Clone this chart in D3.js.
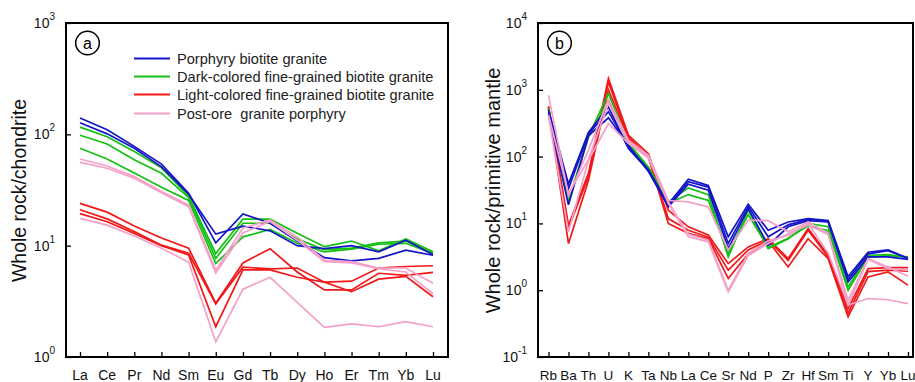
<!DOCTYPE html>
<html><head><meta charset="utf-8">
<script src="https://cdn.jsdelivr.net/npm/d3@7"></script>
<style>body{margin:0;background:#fff;} svg{display:block;font-family:Arial,"Liberation Sans",sans-serif;}</style>
</head><body>
<svg id="c" width="915" height="382"></svg>
<script>
// ---------- data ----------
const reeElements = ["La","Ce","Pr","Nd","Sm","Eu","Gd","Tb","Dy","Ho","Er","Tm","Yb","Lu"];
const reeBlue = [
  [140,110,78,54,29.5,10.6,19.3,15.9,11.0,7.8,7.3,7.7,9.1,8.2],
  [127,101,75,51,29,12.7,15.0,13.6,10.0,9.4,10.0,8.8,11.2,8.3]
];
const reeGreen = [
  [116,95,70,50,28,8.5,17.3,17.3,12.9,9.8,11.0,9.0,11.5,8.8],
  [98,82,59,44.7,27,7.7,15.9,15.9,11.5,9.2,9.5,10.6,11.0,8.6],
  [75,60,45,33.5,25.5,6.9,12.0,14.0,10.5,8.8,9.3,10.3,10.5,8.5]
];
const reeRed = [
  [24,20,15,11.7,9.5,3.04,7.0,9.4,5.8,4.0,4.0,5.65,5.4,5.75],
  [21,17.4,13.4,10.1,8.55,3.0,6.4,6.2,6.3,4.7,4.8,6.3,6.5,6.6],
  [19.4,16.4,12.9,10.0,8.25,1.87,6.05,6.05,5.2,4.7,3.86,5.0,5.3,3.48]
];
const reePink = [
  [60,52,41.7,30.6,23.2,6.0,14.4,17.0,12.0,7.4,7.2,6.3,6.3,4.6],
  [56,49.6,40.3,29.9,22.4,5.7,13.0,16.5,11.2,7.2,7.0,6.2,5.8,3.7],
  [17.6,15.3,12.2,9.5,7.1,1.37,4.06,5.2,3.1,1.85,1.98,1.87,2.08,1.87]
];
const tmElements = ["Rb","Ba","Th","U","K","Ta","Nb","La","Ce","Sr","Nd","P","Zr","Hf","Sm","Ti","Y","Yb","Lu"];
const tmBlue = [
  [500,39,230,555,132,62,19.5,46,37,6.3,19.4,7.9,10.5,11.8,11.0,1.6,3.7,4.0,3.0],
  [470,33,220,470,140,64,18.5,42,35,5.0,18,6.3,9.5,11.5,10.8,1.45,3.5,3.9,3.0],
  [420,19,205,380,148,60,17.7,38.6,31.4,4.2,16.7,4.7,8.9,11.0,10.5,1.33,3.15,3.15,2.9]
];
const tmGreen = [
  [530,22,200,880,160,70,21,34,27,3.15,15.8,4.2,5.9,10,8.9,1.12,3.34,3.4,3.1],
  [510,20,195,700,155,68,20,27,22,3.6,13.5,4.35,6.0,9.2,7.8,1.0,3.1,3.3,3.15]
];
const tmRed = [
  [570,9.4,56,1480,210,110,15.8,8.9,6.7,2.5,4.45,5.9,2.98,8.4,3.34,0.53,2.11,2.18,2.18],
  [550,8.5,50,1300,195,100,11.8,7.9,6.2,2.0,4.0,5.6,2.8,7.9,3.15,0.45,1.9,2.0,1.92],
  [520,5.0,44,1000,187,99,10.0,7.1,5.9,1.5,3.5,5.4,2.23,5.9,2.98,0.40,1.58,1.88,1.19]
];
const tmPink = [
  [830,26,125,720,176,105,22,21,17.7,4.0,11.2,11.0,7.5,10.5,7.1,0.71,2.98,2.23,1.62],
  [420,28,90,620,165,100,21,6.9,5.6,1.0,3.54,5.5,6.6,10.0,3.6,0.6,2.9,2.1,2.0],
  [400,7.5,88,313,158,95,20,6.3,5.3,0.94,3.3,5.0,7.0,9.5,6.8,0.6,0.75,0.72,0.63]
];
const legendLabels = ["Porphyry biotite granite","Dark-colored fine-grained biotite granite","Light-colored fine-grained biotite granite","Post-ore  granite porphyry"];
const reeTicks = [1,10,100,1000];
const tmTicks = [0.1,1,10,100,1000,10000];

// ---------- styles ----------
const colors = {blue:"#1414c8", green:"#14c014", red:"#f01818", pink:"#f5a0c8"};
const svg = d3.select("#c");

function panel(opt){
  const g = svg.append("g");
  const x = d3.scalePoint().domain(opt.cats).range(opt.xr);
  const y = d3.scaleLog().domain(opt.yd).range([opt.bottom, opt.top]);
  const line = d3.line().x((d,i)=>x(opt.cats[i])).y(d=>y(d));
  const groups = [["red",opt.red],["green",opt.green],["blue",opt.blue],["pink",opt.pink]];
  groups.forEach(([c,arr])=>{
    arr.forEach(s=>{
      g.append("path").attr("d",line(s)).attr("fill","none")
        .attr("stroke",colors[c]).attr("stroke-width",1.7).attr("stroke-linejoin","miter");
    });
  });
  // frame
  g.append("rect").attr("x",opt.left).attr("y",opt.top).attr("width",opt.right-opt.left)
    .attr("height",opt.bottom-opt.top).attr("fill","none").attr("stroke","#000").attr("stroke-width",2);
  // x ticks (inside) and labels
  const xa = g.append("g").attr("transform",`translate(0,${opt.bottom})`)
    .call(d3.axisTop(x).tickSize(5).tickFormat(""));
  xa.select(".domain").remove();
  xa.selectAll("line").attr("stroke","#000").attr("stroke-width",1.3);
  opt.cats.forEach(c=>{
    g.append("text").attr("x",x(c)).attr("y",380).attr("text-anchor","middle")
      .attr("font-size",opt.xfs).attr("fill","#111").text(c);
  });
  // y ticks (inside) and labels
  const ya = g.append("g").attr("transform",`translate(${opt.left},0)`)
    .call(d3.axisRight(y).tickValues(opt.ticks).tickSize(5).tickFormat(""));
  ya.select(".domain").remove();
  ya.selectAll("line").attr("stroke","#000").attr("stroke-width",1.3);
  opt.ticks.forEach(t=>{
    const tx = g.append("text").attr("x",opt.left-11).attr("y",y(t)+5)
      .attr("text-anchor","end").attr("font-size",14).attr("fill","#111");
    tx.append("tspan").text("10");
    tx.append("tspan").attr("dy",-8).attr("font-size",10).text(String(Math.round(Math.log10(t))));
  });
  // y title
  g.append("text").attr("transform",`translate(${opt.ytx},${(opt.top+opt.bottom)/2+0.5}) rotate(-90)`)
    .attr("text-anchor","middle").attr("font-size",opt.ytfs).attr("fill","#111").text(opt.ytitle);
  // panel letter
  g.append("circle").attr("cx",opt.cx).attr("cy",43).attr("r",11.8).attr("fill","none")
    .attr("stroke","#000").attr("stroke-width",1.5);
  g.append("text").attr("x",opt.cx).attr("y",48.5).attr("text-anchor","middle")
    .attr("font-size",16).attr("fill","#000").text(opt.letter);
  return g;
}

const ga = panel({cats:reeElements, xr:[80,433], yd:[1,1000], top:23, bottom:357, left:66, right:448,
  red:reeRed, green:reeGreen, blue:reeBlue, pink:reePink, ticks:reeTicks, xfs:14,
  ytx:26, ytfs:19.5, ytitle:"Whole rock/chondrite", cx:87.5, letter:"a"});

// legend
const legCols = [colors.blue, colors.green, colors.red, colors.pink];
const legY = [58.5,76.5,94.5,113.5];
legendLabels.forEach((t,i)=>{
  ga.append("line").attr("x1",134).attr("x2",170).attr("y1",legY[i]).attr("y2",legY[i])
    .attr("stroke",legCols[i]).attr("stroke-width",2);
  ga.append("text").attr("x",177).attr("y",legY[i]+5).attr("font-size",14.6)
    .attr("fill","#222").attr("xml:space","preserve").style("white-space","pre").text(t);
});

panel({cats:tmElements, xr:[548.5,908], yd:[0.1,10000], top:23, bottom:357, left:538, right:913,
  red:tmRed, green:tmGreen, blue:tmBlue, pink:tmPink, ticks:tmTicks, xfs:13.5,
  ytx:500, ytfs:20, ytitle:"Whole rock/primitive mantle", cx:559.5, letter:"b"});
</script>
</body></html>
